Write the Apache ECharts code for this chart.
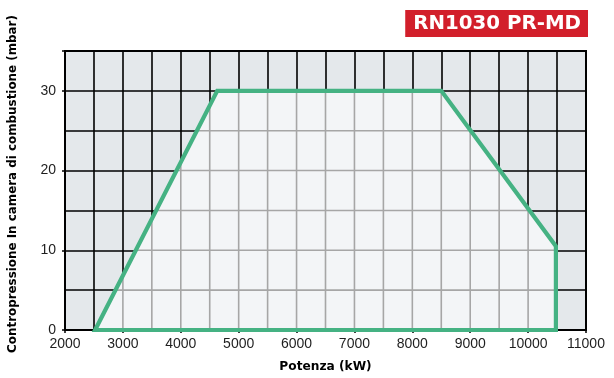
<!DOCTYPE html>
<html><head><meta charset="utf-8">
<script src="https://cdn.jsdelivr.net/npm/echarts@6/dist/echarts.min.js"></script>
<style>html,body{margin:0;padding:0;background:#fff}#c{width:614px;height:378px}</style>
</head><body><div id="c"></div>
<script>
const powerKW = [2520, 4630, 8500, 10480, 10480];
const pressureMbar = [0, 30, 30, 10.5, 0];
const xTickLabels = [2000,3000,4000,5000,6000,7000,8000,9000,10000,11000];
const yTickLabels = [0,10,20,30];
const titleText = 'RN1030 PR-MD';

const FONT = '"Liberation Sans", Arial, sans-serif';
const BOLD = '"DejaVu Sans", sans-serif';
const chart = echarts.init(document.getElementById('c'), null, {renderer:'canvas'});

function clipSegments(poly, api) {
  const out = [];
  const n = poly.length;
  for (let c = 2000; c <= 11000; c += 500) {
    const ys = [];
    for (let i = 0; i < n; i++) {
      const a = poly[i], b = poly[(i+1)%n];
      if (a[0] === b[0]) continue;
      const lo = Math.min(a[0], b[0]), hi = Math.max(a[0], b[0]);
      if (c >= lo && c <= hi) ys.push(a[1] + (b[1]-a[1])*(c-a[0])/(b[0]-a[0]));
    }
    if (ys.length >= 2) {
      const y0 = Math.min(...ys), y1 = Math.max(...ys);
      if (y1 - y0 > 0.01) out.push([api.coord([c, y0]), api.coord([c, y1])]);
    }
  }
  for (let r = 0; r <= 35; r += 5) {
    const xs = [];
    for (let i = 0; i < n; i++) {
      const a = poly[i], b = poly[(i+1)%n];
      if (a[1] === b[1]) continue;
      const lo = Math.min(a[1], b[1]), hi = Math.max(a[1], b[1]);
      if (r >= lo && r <= hi) xs.push(a[0] + (b[0]-a[0])*(r-a[1])/(b[1]-a[1]));
    }
    if (xs.length >= 2) {
      const x0 = Math.min(...xs), x1 = Math.max(...xs);
      if (x1 - x0 > 0.01) out.push([api.coord([x0, r]), api.coord([x1, r])]);
    }
  }
  return out;
}

const poly = powerKW.map((p, i) => [p, pressureMbar[i]]);

chart.setOption({
  animation: false,
  backgroundColor: '#ffffff',
  title: {
    text: titleText, right: 26, top: 10,
    backgroundColor: '#d21f2b', padding: [3, 7, 3, 8],
    textStyle: {color: '#fff', fontFamily: BOLD, fontWeight: 'bold', fontSize: 19.8, lineHeight: 21}
  },
  grid: {left: 65, right: 28, top: 51, bottom: 48, show: true, containLabel: false, outerBoundsMode: 'none',
    backgroundColor: '#e4e8eb', borderColor: '#000', borderWidth: 2},
  xAxis: [{
    type: 'value', min: 2000, max: 11000, interval: 500,
    axisLine: {show: true, lineStyle: {color: '#000', width: 2}},
    axisTick: {show: false},
    axisLabel: {show: false},
    splitLine: {show: true, lineStyle: {color: '#000', width: 1.6}}
  }, {
    type: 'value', min: 2000, max: 11000, interval: 1000, position: 'bottom',
    name: 'Potenza (kW)', nameLocation: 'middle', nameGap: 31,
    nameTextStyle: {fontFamily: BOLD, fontWeight: 'bold', fontSize: 12.2, color: '#000'},
    axisLine: {show: false},
    axisTick: {show: true, length: 3, lineStyle: {color: '#000', width: 1.5}},
    axisLabel: {show: true, fontFamily: FONT, fontSize: 14, color: '#1e1e1e', margin: 7,
      formatter: v => xTickLabels.includes(v) ? String(v) : ''},
    splitLine: {show: false}
  }],
  yAxis: [{
    type: 'value', min: 0, max: 35, interval: 5,
    axisLine: {show: true, lineStyle: {color: '#000', width: 2}},
    axisTick: {show: false},
    axisLabel: {show: false},
    splitLine: {show: true, lineStyle: {color: '#000', width: 1.6}}
  }, {
    type: 'value', min: 0, max: 35, interval: 10, position: 'left',
    name: 'Contropressione In camera di combustione (mbar)', nameLocation: 'middle', nameGap: 46,
    nameTextStyle: {fontFamily: BOLD, fontWeight: 'bold', fontSize: 11.9, color: '#000', padding: [0, 0, 0, 13]},
    axisLine: {show: false},
    axisTick: {show: true, length: 3, lineStyle: {color: '#000', width: 1.5}},
    axisLabel: {show: true, fontFamily: FONT, fontSize: 14, color: '#1e1e1e', margin: 9,
      formatter: v => yTickLabels.includes(v) ? String(v) : ''},
    splitLine: {show: false}
  }],
  series: [{
    type: 'custom',
    xAxisIndex: 0, yAxisIndex: 0,
    data: [[0]],
    clip: false,
    renderItem: function (params, api) {
      const pts = poly.map(p => api.coord(p));
      const segs = clipSegments(poly, api);
      const children = [{
        type: 'polygon', shape: {points: pts},
        style: {fill: '#f3f5f7', stroke: null}
      }];
      segs.forEach(s => children.push({
        type: 'line', shape: {x1: s[0][0], y1: s[0][1], x2: s[1][0], y2: s[1][1]},
        style: {stroke: '#a6a6a6', lineWidth: 1.6}
      }));
      children.push({
        type: 'polygon', shape: {points: pts},
        style: {fill: null, stroke: '#45b283', lineWidth: 4.2, lineJoin: 'miter'}
      });
      return {type: 'group', children: children};
    }
  }]
});
</script></body></html>
